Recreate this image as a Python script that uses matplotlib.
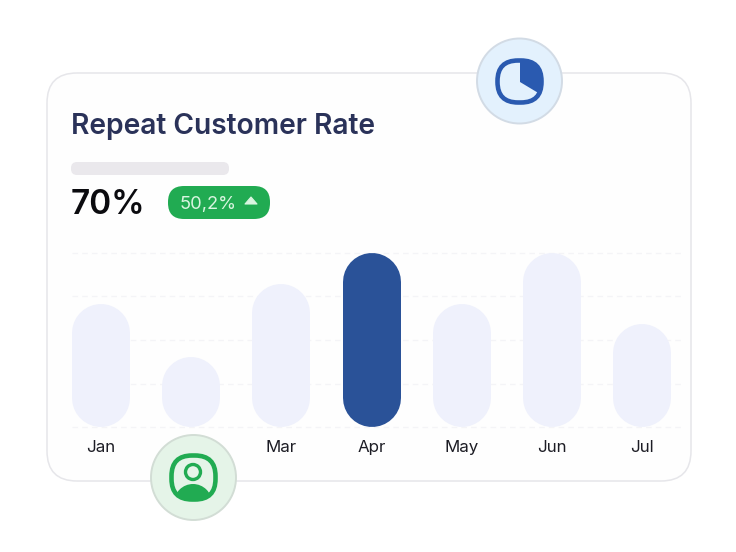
import matplotlib.pyplot as plt
from matplotlib.patches import Circle, Ellipse, FancyBboxPatch, Polygon

plt.rcParams["font.family"] = ["Inter", "DejaVu Sans"]

months = ["Jan", "Feb", "Mar", "Apr", "May", "Jun", "Jul"]
rates = [70.5, 40, 82, 100, 70.5, 100, 59]
grid_values = [0, 25, 50, 75, 100]
highlight_month = "Apr"

W, H = 736, 552


def px_axes(fig, left, top, right, bottom):
    return fig.add_axes(
        [left / W, 1 - bottom / H, (right - left) / W, (bottom - top) / H]
    )


def rounded(x0, y0, x1, y1, r, **kw):
    return FancyBboxPatch(
        (x0, y0), x1 - x0, y1 - y0, boxstyle=f"round,pad=0,rounding_size={r}", **kw
    )


fig = plt.figure(figsize=(W / 100, H / 100), dpi=100, facecolor="white")

# card and header, in pixel coordinates
bg = px_axes(fig, 0, 0, W, H)
bg.set_xlim(0, W)
bg.set_ylim(H, 0)
bg.axis("off")
bg.add_patch(rounded(47, 73, 691, 481, 30, fc="#fefefe", ec="#e6e6ea", lw=1.1))
bg.text(71, 126, "Repeat Customer Rate", fontsize=20.3, fontweight="semibold",
        color="#2a3259", va="center", ha="left")
bg.add_patch(rounded(71, 162, 229, 175, 6, fc="#eae8ec", ec="none"))
bg.text(71, 205, "70%", fontsize=24, fontweight="semibold", color="#0b0b0f",
        va="center", ha="left")
bg.add_patch(rounded(168, 186, 270, 219, 16, fc="#21ab52", ec="none"))
bg.text(180, 204, "50,2%", fontsize=13.2, color="#d9f5e0", va="center", ha="left")
bg.add_patch(Polygon([(245, 204), (251, 197), (257, 204)], closed=True,
                     fc="#d9f5e0", ec="#d9f5e0", lw=0.8, joinstyle="round"))

# bars
ax = px_axes(fig, 72, 253, 682, 427)
ax.patch.set_alpha(0)
ax.set_xlim(-0.319, 6.44)
ax.set_ylim(0, 100)
for s in ax.spines.values():
    s.set_visible(False)
ax.set_yticks([])
ax.set_xticks(range(len(months)))
ax.set_xticklabels(months, fontsize=12.2, color="#1d1d25")
ax.tick_params(axis="x", length=0, pad=9.5)
for g in grid_values:
    ax.axhline(g, color="#f4f4f7", lw=1, ls=(0, (4, 3)), zorder=1, clip_on=False)

# pill bars are thick lines with round caps, 58 px wide
bar_lw = 58 * 72 / 100
cap = 29 * 100 / 174
for i, (m, v) in enumerate(zip(months, rates)):
    color = "#2a5298" if m == highlight_month else "#eff1fc"
    ax.plot([i, i], [cap, v - cap], color=color, lw=bar_lw,
            solid_capstyle="round", zorder=2, clip_on=False)

# badges on top of the card
top = px_axes(fig, 0, 0, W, H)
top.patch.set_alpha(0)
top.set_xlim(0, W)
top.set_ylim(H, 0)
top.axis("off")

top.add_patch(Circle((519.5, 81), 42.5, fc="#e3f1fd", ec="#d2dbe5", lw=1.4))
pie_box = rounded(497.5, 60.5, 541.5, 102.5, 20.5, fc="none", ec="#2a5ab0", lw=3.3)
top.add_patch(pie_box)
wedge = Polygon([(520, 82), (520, 50), (560, 50), (560, 106)], closed=True,
                fc="#2a5ab0", ec="none")
top.add_patch(wedge)
wedge.set_clip_path(pie_box)

top.add_patch(Circle((193.5, 477.5), 42.5, fc="#e5f4e8", ec="#d2ddd5", lw=1.4))
user_box = rounded(171.5, 455.5, 215.5, 499.5, 20.5, fc="none", ec="#21ab52", lw=3.3)
top.add_patch(user_box)
top.add_patch(Circle((193, 472), 7.5, fc="none", ec="#21ab52", lw=2.4))
body = Ellipse((193, 503), 38, 38, fc="#21ab52", ec="none")
top.add_patch(body)
body.set_clip_path(user_box)

fig.savefig("out.png", dpi=100)
